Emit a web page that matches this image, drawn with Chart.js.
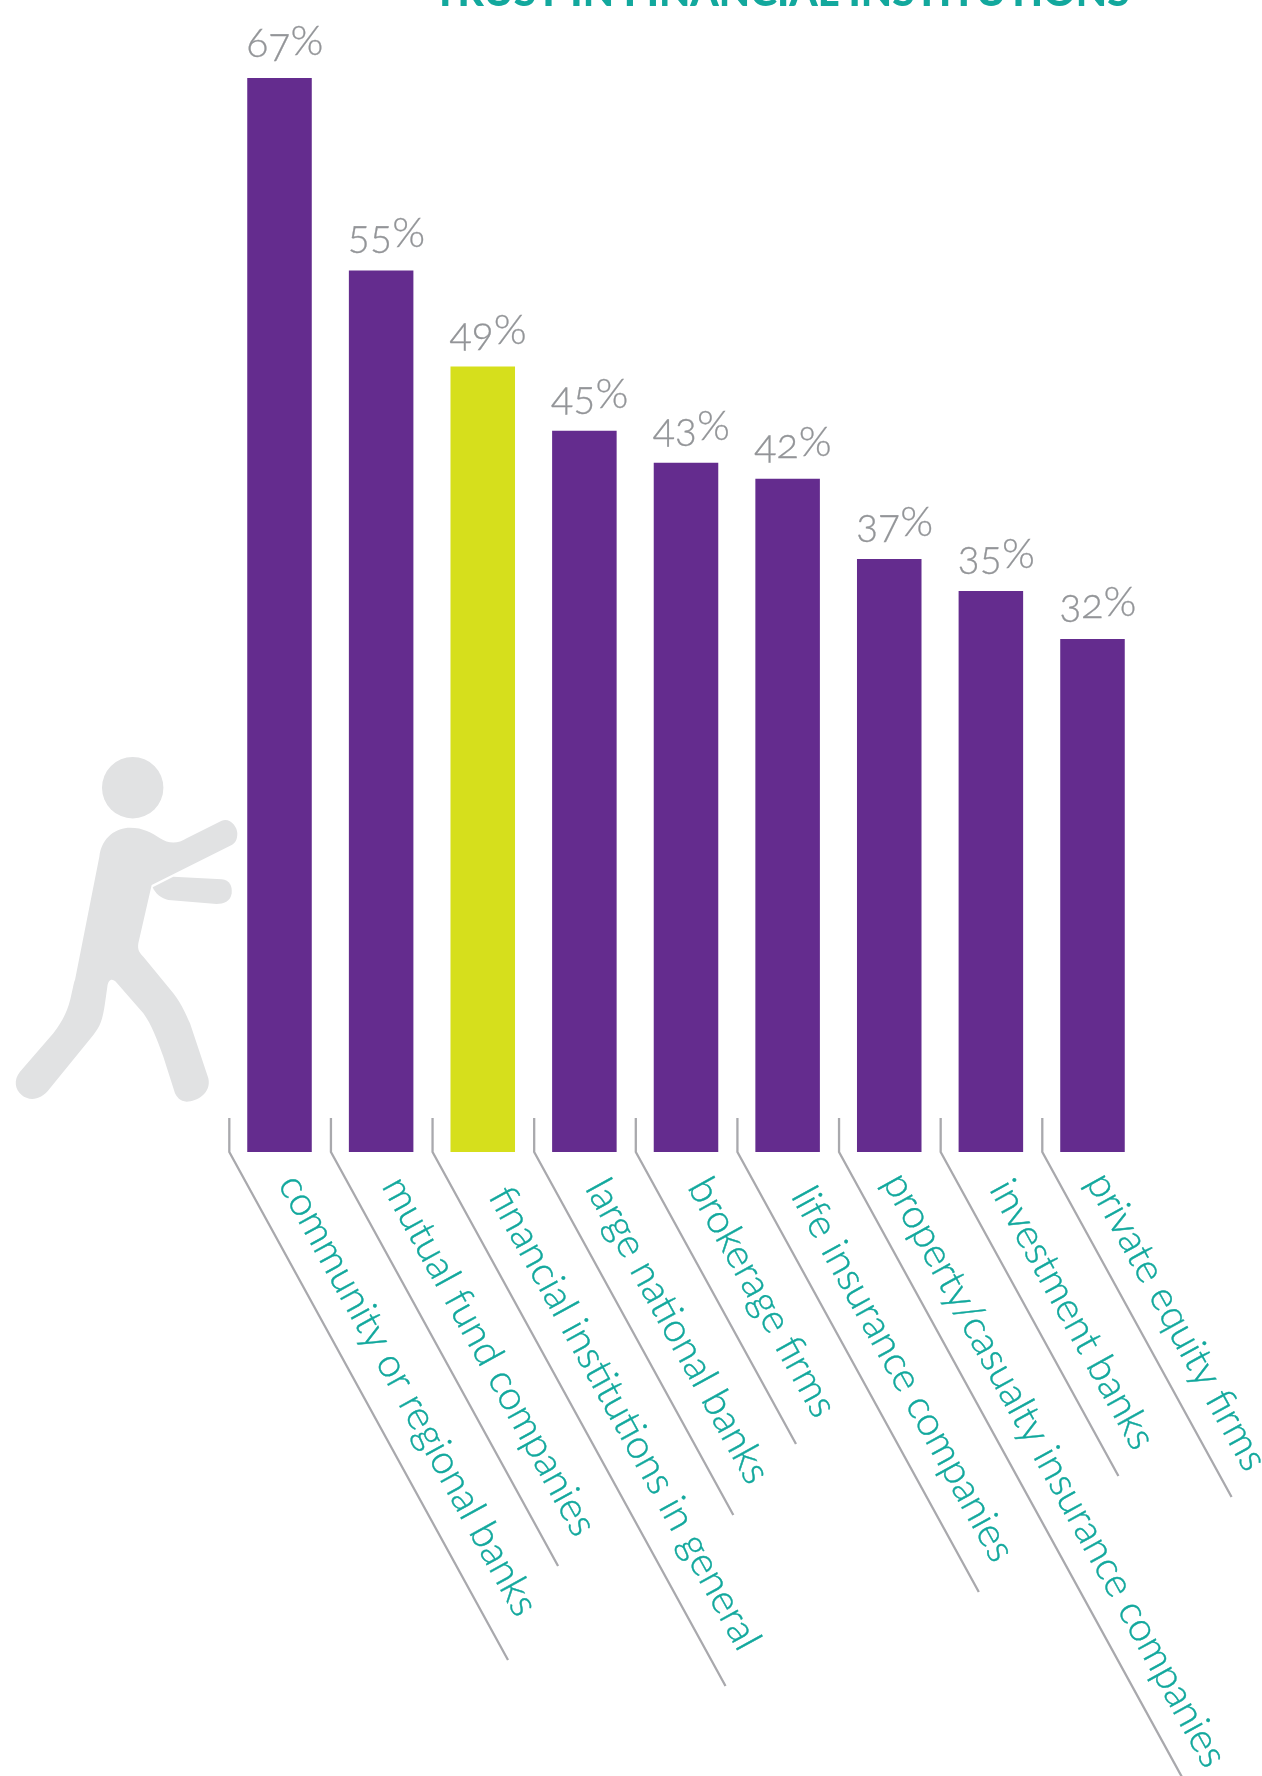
<!DOCTYPE html>
<html>
<head>
<meta charset="utf-8">
<title>Trust in financial institutions</title>
<style>
  html, body { margin: 0; padding: 0; background: #fff; }
  #wrap { position: relative; width: 1262px; height: 1776px; overflow: hidden; }
  /* canvas text can't switch on old-style figures, so the values are html */
  .value {
    position: absolute;
    font: 300 41px/40px Lato, sans-serif;
    color: #939598;
    -webkit-text-stroke: 0.3px #939598;
    font-feature-settings: "onum";
    white-space: nowrap;
  }
  .value span { position: relative; top: -2px; font-size: 1.03em; }
</style>
<script src="https://cdn.jsdelivr.net/npm/chart.js@4"></script>
</head>
<body>
<div id="wrap">
  <canvas id="myChart" width="1262" height="1776"></canvas>
</div>
<script>
var categories = [
    "community or regional banks",
    "mutual fund companies",
    "financial institutions in general",
    "large national banks",
    "brokerage firms",
    "life insurance companies",
    "property/casualty insurance companies",
    "investment banks",
    "private equity firms"
];
var trustValues = [67, 55, 49, 45, 43, 42, 37, 35, 32];
var highlighted = "financial institutions in general";

var titleText = "TRUST IN FINANCIAL INSTITUTIONS";

var PURPLE = "#642c8e", LIME = "#d6df1c", TEAL = "#12a89d", GREY = "#939598";
var LEADER = "#a9a9ad", FIGURE = "#e1e2e3";

// how far down each leader line runs below the baseline
var leaderDrop = [508, 414, 534, 363, 292, 440, 660, 324, 345];
// the rotated labels don't all start at the same spot
var labelNudgeX = [0, 2, 7, 2, 3, 5, -5, 0, -5];
var labelNudgeY = [-2, 0, 10, 2, 1, 10, -4, 3, -4];

var FIGURE_BODY = "M390 293C430 293 455 308 480 325C505 342 535 342 560 325L665 272C690 262 712 290 712 310C712 330 705 340 695 345L455 465L415 640C412 660 418 668 430 680L520 790C550 830 560 860 570 880L625 1045C635 1090 590 1115 560 1115C540 1115 530 1100 525 1090L490 980C470 925 455 885 430 850L350 758C335 742 325 750 322 770L315 820C308 870 300 890 280 915L150 1075C120 1115 85 1112 65 1095C45 1078 40 1050 60 1025L160 910C190 870 205 840 215 790C220 770 222 755 225 750L298 380C305 320 350 293 390 293Z";
var FIGURE_ARM = "M458 472L520 440L665 448C690 450 697 470 695 490C692 515 670 522 650 522L505 510C485 507 465 490 458 472Z";

var decorations = {
    id: "decorations",
    afterDraw: function (chart) {
        var ctx = chart.ctx;
        var xs = chart.scales.x, ys = chart.scales.y;
        var base = ys.getPixelForValue(0);
        var ang = 61.25 * Math.PI / 180;

        // title, sits right on the top edge
        ctx.save();
        ctx.fillStyle = TEAL;
        ctx.font = "900 40.6px Lato";
        ctx.textAlign = "left";
        ctx.fillText(titleText, 433, 6);
        ctx.restore();

        categories.forEach(function (name, i) {
            var cx = xs.getPixelForValue(i);
            var stubX = cx - 50.2;

            ctx.save();
            ctx.strokeStyle = LEADER;
            ctx.lineWidth = 2.3;
            ctx.beginPath();
            ctx.moveTo(stubX, base - 34);
            ctx.lineTo(stubX, base);
            ctx.lineTo(stubX + leaderDrop[i] / Math.tan(ang), base + leaderDrop[i]);
            ctx.stroke();
            ctx.restore();

            ctx.save();
            ctx.translate(cx - 2 + labelNudgeX[i], base + 34 + labelNudgeY[i]);
            ctx.rotate(ang);
            ctx.fillStyle = TEAL;
            ctx.strokeStyle = TEAL;
            ctx.lineWidth = 0.4;
            ctx.font = "300 40px Lato";
            ctx.textAlign = "left";
            ctx.textBaseline = "alphabetic";
            ctx.fillText(name, 0, 0);
            ctx.strokeText(name, 0, 0);
            ctx.restore();

            var bar = chart.getDatasetMeta(0).data[i];
            var el = document.createElement("div");
            el.className = "value";
            el.innerHTML = trustValues[i] + "<span>%</span>";
            el.style.left = (bar.x - bar.width / 2 - 1) + "px";
            el.style.top = (bar.y - 57) + "px";
            document.getElementById("wrap").appendChild(el);
        });

        // little figure pushing the first bar
        ctx.save();
        ctx.fillStyle = FIGURE;
        ctx.beginPath();
        ctx.arc(132.7, 787.7, 30.7, 0, Math.PI * 2);
        ctx.fill();
        ctx.translate(0, 730);
        ctx.scale(1 / 3, 1 / 3);
        ctx.fill(new Path2D(FIGURE_BODY));
        ctx.fill(new Path2D(FIGURE_ARM));
        ctx.restore();
    }
};

var myChart = new Chart(document.getElementById("myChart"), {
    type: "bar",
    data: {
        labels: categories,
        datasets: [{
            data: trustValues,
            backgroundColor: categories.map(function (c) { return c === highlighted ? LIME : PURPLE; }),
            barPercentage: 0.635,
            categoryPercentage: 1
        }]
    },
    options: {
        responsive: false,
        animation: false,
        layout: { padding: { left: 228.7, right: 118.7, top: 30, bottom: 624 } },
        plugins: { legend: { display: false }, tooltip: { enabled: false }, title: { display: false } },
        scales: {
            x: { display: false },
            y: { display: false, min: 0, max: 70 }
        }
    },
    plugins: [decorations]
});
</script>
</body>
</html>
